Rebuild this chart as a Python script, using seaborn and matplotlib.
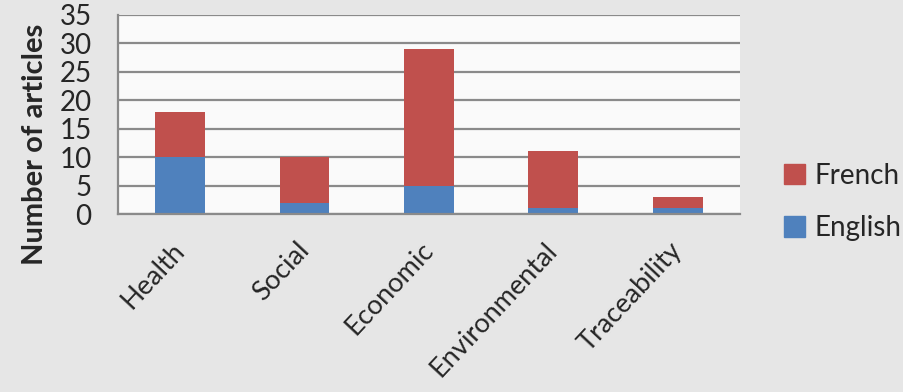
import matplotlib
matplotlib.use("Agg")
import matplotlib.pyplot as plt
import matplotlib.transforms as mtransforms
import seaborn as sns
from matplotlib.patches import Patch

# Datos
categories = ["Health", "Social", "Economic", "Environmental", "Traceability"]
english = [10, 2, 5, 1, 1]
french = [8, 8, 24, 10, 2]
totals = [e + f for e, f in zip(english, french)]

RED = "#c0504d"
BLUE = "#4f81bd"
GRID = "#8a8a8a"

sns.set_style("white")
plt.rcParams["font.family"] = ["Lato", "DejaVu Sans"]

fig = plt.figure(figsize=(9.04, 3.92), dpi=100, facecolor="#e6e6e6")
ax = fig.add_axes([0.1305, 0.454, 0.688, 0.508])
ax.set_facecolor("#fafafa")

# barras apiladas: total (rojo) y luego inglés (azul) encima
sns.barplot(x=categories, y=totals, color=RED, width=0.4, saturation=1,
            linewidth=0, ax=ax)
sns.barplot(x=categories, y=english, color=BLUE, width=0.4, saturation=1,
            linewidth=0, ax=ax)

ax.set_ylim(0, 35)
ax.set_xlim(-0.5, 4.5)
ax.set_yticks(range(0, 36, 5))
ax.yaxis.grid(True, color=GRID, linewidth=1.6)
ax.set_axisbelow(True)

for s in ["top", "right"]:
    ax.spines[s].set_visible(False)
for s in ["left", "bottom"]:
    ax.spines[s].set_color(GRID)
    ax.spines[s].set_linewidth(1.6)

# ticks en los bordes de categoría
ax.set_xticks([i - 0.5 for i in range(6)], minor=True)
ax.tick_params(axis="x", which="minor", length=7, width=1.6, color=GRID, direction="out")
ax.tick_params(axis="x", which="major", length=0, pad=17, labelsize=19.5)
ax.tick_params(axis="y", length=7, width=1.6, color=GRID, direction="out",
               pad=12, labelsize=20)
plt.setp(ax.get_xticklabels(), rotation=47, ha="right", va="top",
         rotation_mode="anchor")
shift = mtransforms.ScaledTranslation(-0.09, 0, fig.dpi_scale_trans)
for lab in ax.get_xticklabels():
    lab.set_transform(lab.get_transform() + shift)

ax.set_xlabel("")
ax.set_ylabel("Number of articles", fontsize=21, fontweight="bold")
ax.yaxis.set_label_coords(-0.112, 0.35)

handles = [Patch(color=RED, label="French"), Patch(color=BLUE, label="English")]
fig.legend(handles=handles, loc="center left", bbox_to_anchor=(0.867, 0.485),
           frameon=False, fontsize=20, handlelength=0.75, handleheight=0.75,
           handletextpad=0.35, labelspacing=0.95, borderpad=0, borderaxespad=0)

fig.savefig("out.png", dpi=100, facecolor=fig.get_facecolor())
